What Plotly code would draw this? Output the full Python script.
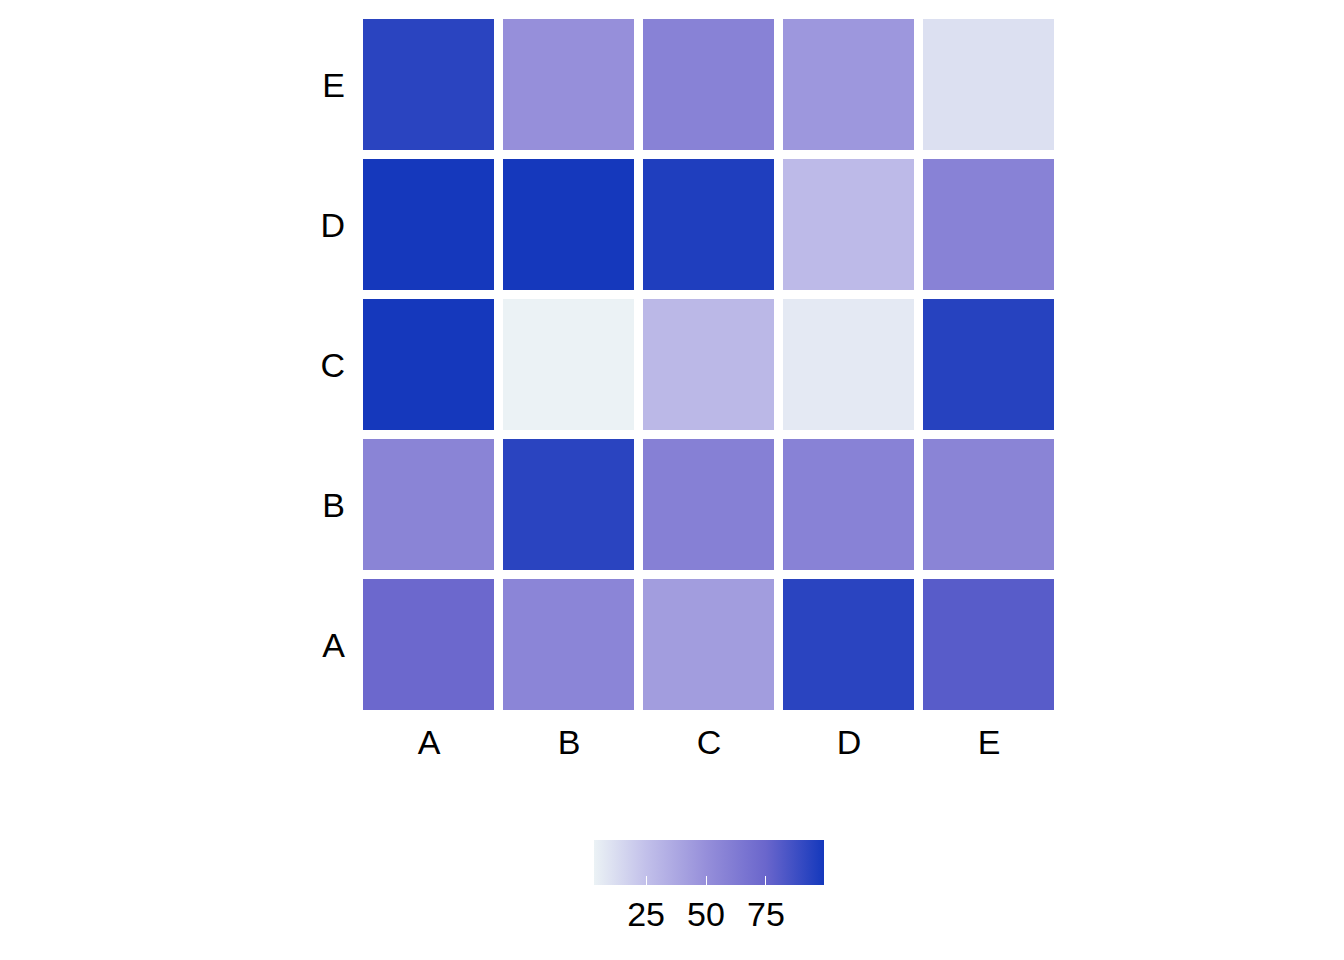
import plotly.graph_objects as go

x_labels = ["A", "B", "C", "D", "E"]
y_labels = ["A", "B", "C", "D", "E"]

# rows correspond to y_labels (A bottom ... E top), columns to x_labels
row_A = [74, 56, 43, 93, 80]
row_B = [57, 93, 59, 58, 57]
row_C = [99, 3.3, 29, 7, 94]
row_D = [99, 99, 96, 28, 58]
row_E = [93, 50, 58, 46, 11]

z = [row_A, row_B, row_C, row_D, row_E]

tick_vals = [25, 50, 75]

zmin, zmax = 3.3, 99.2
def pos(v):
    return (v - zmin) / (zmax - zmin)

colorscale = [
    [0.0, "#EBF2F5"],
    [pos(25), "#C2C0EA"],
    [pos(50), "#968FDA"],
    [pos(75), "#6A66CC"],
    [1.0, "#1438BC"],
]

font_family = "Liberation Sans, Arial, sans-serif"
fs = 34

fig = go.Figure(go.Heatmap(
    z=z, x=x_labels, y=y_labels,
    colorscale=colorscale, zmin=zmin, zmax=zmax,
    xgap=9, ygap=9,
    colorbar=dict(
        orientation="h",
        x=0.5, xanchor="center",
        y=-0.1786, yanchor="top",
        len=230, lenmode="pixels",
        thickness=45, thicknessmode="pixels",
        outlinewidth=0,
        xpad=0, ypad=0,
        tickvals=tick_vals,
        ticks="inside", ticklen=9, tickcolor="white", tickwidth=1,
        tickfont=dict(size=fs, color="black", family=font_family),
    ),
))

fig.update_layout(
    width=1344, height=960,
    margin=dict(l=351, r=293, t=7, b=253, autoexpand=False),
    plot_bgcolor="white", paper_bgcolor="white",
    font=dict(family=font_family, size=fs, color="black"),
    xaxis=dict(showgrid=False, zeroline=False, ticks="", ticklabelstandoff=4,
               tickfont=dict(size=fs, color="black")),
    yaxis=dict(showgrid=False, zeroline=False, ticks="", ticklabelstandoff=13,
               tickfont=dict(size=fs, color="black")),
)

fig.write_html("out.html")
